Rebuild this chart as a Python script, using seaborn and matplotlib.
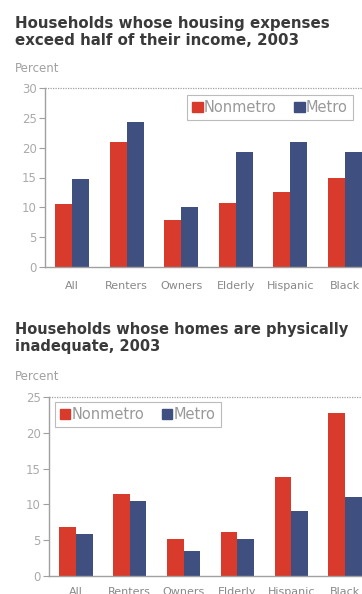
import matplotlib
matplotlib.use("Agg")
import matplotlib.pyplot as plt
import seaborn as sns
import pandas as pd

categories = ["All", "Renters", "Owners", "Elderly", "Hispanic", "Black"]
series = ["Nonmetro", "Metro"]
cost_nonmetro = [10.5, 21.0, 7.8, 10.7, 12.5, 15.0]
cost_metro = [14.8, 24.3, 10.0, 19.3, 21.0, 19.3]
inad_nonmetro = [6.8, 11.5, 5.2, 6.1, 13.8, 22.8]
inad_metro = [5.8, 10.5, 3.5, 5.1, 9.1, 11.1]
top_ticks = [0, 5, 10, 15, 20, 25, 30]
bot_ticks = [0, 5, 10, 15, 20, 25]

RED = "#d83b2b"
BLUE = "#3e4f80"
GRAY = "#a0a0a0"
TXT = "#3a3a3a"

sns.set_theme(style="white")
plt.rcParams["font.family"] = ["DejaVu Sans"]

def long_df(a, b):
    return pd.DataFrame({
        "cat": categories * 2,
        "series": [series[0]] * len(categories) + [series[1]] * len(categories),
        "val": list(a) + list(b),
    })

fig = plt.figure(figsize=(3.62, 5.94), dpi=100)
W, H = 362, 594

def px_axes(left, top, width, height):
    return fig.add_axes([left / W, 1 - (top + height) / H, width / W, height / H])

def draw(ax, df, ticks, legend_loc, anchor, xpad):
    sns.barplot(data=df, x="cat", y="val", hue="series", palette=[RED, BLUE],
                width=0.62, saturation=1, gap=0, ax=ax, legend=False,
                edgecolor="none", linewidth=0)
    ax.set_xlim(-0.5, 5.5)
    ax.set_ylim(0, ticks[-1])
    ax.set_yticks(ticks)
    ax.set_yticklabels([str(t) for t in ticks])
    ax.set_xlabel("")
    ax.set_ylabel("")
    for s in ["top", "right"]:
        ax.spines[s].set_visible(False)
    for s in ["left", "bottom"]:
        ax.spines[s].set_color(GRAY)
        ax.spines[s].set_linewidth(1.0)
    ax.axhline(ticks[-1], color=GRAY, lw=0.9, ls=(0, (1, 1)), clip_on=False)
    ax.tick_params(axis="y", left=True, length=4, width=0.8, color=GRAY,
                   labelsize=8.5, labelcolor="#aaaaaa", pad=2)
    ax.tick_params(axis="x", bottom=False, labelsize=8, labelcolor="#888888", pad=xpad)
    handles = [plt.Rectangle((0, 0), 1, 1, color=RED), plt.Rectangle((0, 0), 1, 1, color=BLUE)]
    leg = ax.legend(handles, series, loc=legend_loc, ncol=2, frameon=True, fancybox=False,
                    fontsize=10.5, handlelength=0.7, handleheight=0.7, handletextpad=0.1,
                    columnspacing=1.2, borderpad=0.35, borderaxespad=0, labelcolor="#999999",
                    bbox_to_anchor=anchor, bbox_transform=fig.transFigure)
    leg.get_frame().set_edgecolor("#aaaaaa")
    leg.get_frame().set_linewidth(0.8)
    return leg

ax1 = px_axes(45, 88, 327, 179)
draw(ax1, long_df(cost_nonmetro, cost_metro), top_ticks, "upper right", (353 / W, 1 - 95 / H), 4)

ax2 = px_axes(49, 397, 323, 179)
draw(ax2, long_df(inad_nonmetro, inad_metro), bot_ticks, "upper left", (55 / W, 1 - 402 / H), 2)

fig.text(15 / W, 1 - 16 / H, "Households whose housing expenses\nexceed half of their income, 2003",
         ha="left", va="top", fontsize=10.8, fontweight="bold", color=TXT, linespacing=1.15)
fig.text(15 / W, 1 - 62 / H, "Percent", ha="left", va="top", fontsize=8.5, color=GRAY)
fig.text(15 / W, 1 - 322 / H, "Households whose homes are physically\ninadequate, 2003",
         ha="left", va="top", fontsize=10.5, fontweight="bold", color=TXT, linespacing=1.15)
fig.text(15 / W, 1 - 370 / H, "Percent", ha="left", va="top", fontsize=8.5, color=GRAY)

fig.savefig("out.png", dpi=100, facecolor="white")
